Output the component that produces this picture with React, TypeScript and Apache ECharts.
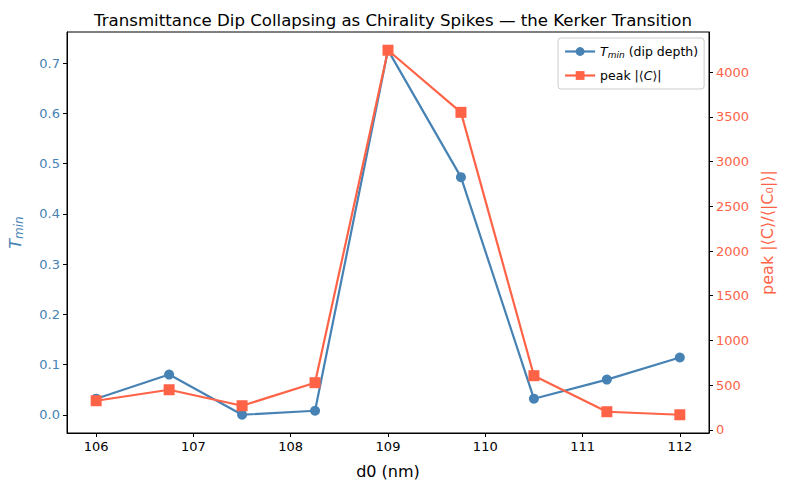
import React, { useEffect, useRef } from "react";
import * as echarts from "echarts";

const d0 = [106, 106.75, 107.5, 108.25, 109, 109.75, 110.5, 111.25, 112];
const tMin = [0.032, 0.080, 0.0, 0.008, 0.726, 0.473, 0.032, 0.070, 0.114];
const peakC = [325, 448, 269, 527, 4247, 3552, 605, 202, 168];
const xTicks = [106, 107, 108, 109, 110, 111, 112];
const leftTicks = [0, 0.1, 0.2, 0.3, 0.4, 0.5, 0.6, 0.7];
const rightTicks = [0, 500, 1000, 1500, 2000, 2500, 3000, 3500, 4000];

const BLUE = "#4682B4";
const RED = "#FF6347";
const FONT = "DejaVu Sans";

export default function App() {
  const ref = useRef<HTMLDivElement>(null);
  useEffect(() => {
    const chart = echarts.init(ref.current!, null, { renderer: "svg" });
    chart.setOption({
      animation: false,
      textStyle: { fontFamily: FONT },
      title: {
        text: "Transmittance Dip Collapsing as Chirality Spikes — the Kerker Transition",
        left: 388,
        textAlign: "center",
        top: 7,
        textStyle: { fontFamily: FONT, fontSize: 16.6, fontWeight: "normal", color: "#000" },
      },
      grid: {
        left: 67, right: 81, top: 32, bottom: 57,
        outerBoundsMode: "none",
        containLabel: false,
        show: true, borderColor: "#000", borderWidth: 1, backgroundColor: "transparent",
      },
      legend: {
        orient: "vertical",
        left: 558,
        top: 38,
        padding: [7, 6, 7, 6],
        itemGap: 10,
        itemWidth: 30,
        itemHeight: 11,
        backgroundColor: "#fff",
        borderColor: "#ccc",
        borderWidth: 1,
        borderRadius: 3,
        lineStyle: { width: 2.2 },
        textStyle: {
          fontFamily: FONT, fontSize: 12.5, color: "#000",
          rich: {
            i: { fontFamily: FONT, fontSize: 12.5, fontStyle: "italic", color: "#000" },
            s: { fontFamily: FONT, fontSize: 9, fontStyle: "italic", color: "#000", verticalAlign: "bottom", padding: [6, 0, 0, 0] },
            n: { fontFamily: FONT, fontSize: 12.5, color: "#000" },
          },
        },
        formatter: (name: string) =>
          name === "tmin" ? "{i|T}{s|min}{n| (dip depth)}" : "{n|peak |⟨}{i|C}{n|⟩|}",
        data: ["tmin", "peak"],
      },
      xAxis: {
        type: "value",
        min: 105.7,
        max: 112.3,
        name: "d0 (nm)",
        nameLocation: "middle",
        nameGap: 30,
        nameTextStyle: { fontFamily: FONT, fontSize: 16, color: "#000" },
        axisLine: { show: true, onZero: false, lineStyle: { color: "#000", width: 1 } },
        axisTick: { show: true, length: 4, inside: false, customValues: xTicks, lineStyle: { color: "#000" } },
        axisLabel: { customValues: xTicks, fontFamily: FONT, fontSize: 13, color: "#000", margin: 7 },
        splitLine: { show: false },
      },
      yAxis: [
        {
          type: "value",
          position: "left",
          min: -0.0363,
          max: 0.762,
          name: "{i|T}{s|min}",
          nameLocation: "middle",
          nameGap: 42,
          nameRotate: 90,
          nameTextStyle: {
            rich: {
              i: { fontFamily: FONT, fontSize: 16, fontStyle: "italic", color: BLUE },
              s: { fontFamily: FONT, fontSize: 12, fontStyle: "italic", color: BLUE, verticalAlign: "bottom", padding: [8, 0, 0, 0] },
            },
          },
          axisLine: { show: true, onZero: false, lineStyle: { color: "#000", width: 1 } },
          axisTick: { show: true, length: 4, customValues: leftTicks, lineStyle: { color: "#000" } },
          axisLabel: {
            customValues: leftTicks, fontFamily: FONT, fontSize: 13, color: BLUE, margin: 7,
            formatter: (v: number) => v.toFixed(1),
          },
          splitLine: { show: false },
        },
        {
          type: "value",
          position: "right",
          min: -36,
          max: 4451,
          name: "peak |⟨C⟩/⟨|C₀|⟩|",
          nameLocation: "middle",
          nameGap: 50,
          nameRotate: 90,
          nameTextStyle: { fontFamily: FONT, fontSize: 16, color: RED },
          axisLine: { show: true, onZero: false, lineStyle: { color: "#000", width: 1 } },
          axisTick: { show: true, length: 4, customValues: rightTicks, lineStyle: { color: "#000" } },
          axisLabel: {
            customValues: rightTicks, fontFamily: FONT, fontSize: 13, color: RED, margin: 7,
            formatter: (v: number) => String(Math.round(v)),
          },
          splitLine: { show: false },
        },
      ],
      series: [
        {
          name: "tmin",
          type: "line",
          yAxisIndex: 0,
          data: d0.map((x, i) => [x, tMin[i]]),
          symbol: "circle",
          symbolSize: 10,
          lineStyle: { color: BLUE, width: 2.2 },
          itemStyle: { color: BLUE },
          z: 2,
        },
        {
          name: "peak",
          type: "line",
          yAxisIndex: 1,
          data: d0.map((x, i) => [x, peakC[i]]),
          symbol: "rect",
          symbolSize: 11,
          lineStyle: { color: RED, width: 2.2 },
          itemStyle: { color: RED },
          z: 3,
        },
      ],
    });
    return () => chart.dispose();
  }, []);
  return <div ref={ref} style={{ width: 790, height: 490, position: "absolute", left: 0, top: 0 }} />;
}
